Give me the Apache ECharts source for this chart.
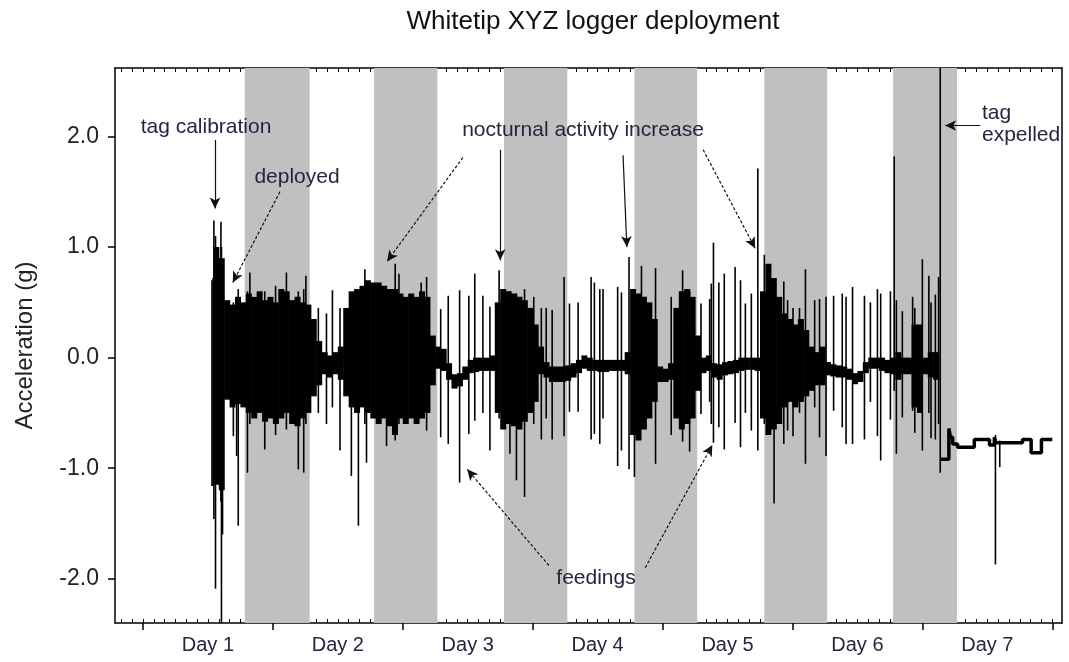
<!DOCTYPE html>
<html><head><meta charset="utf-8">
<script src="https://cdn.jsdelivr.net/npm/echarts@6/dist/echarts.min.js"></script>
<style>html,body{margin:0;padding:0;background:#fff}#c{width:1069px;height:662px}</style>
</head><body><div id="c"></div>
<script>
// ---- axis / tick data ----
const dayLabels = ['Day 1','Day 2','Day 3','Day 4','Day 5','Day 6','Day 7'];
const dayTickHours = [0,24,48,72,96,120,144,168];
const dayLabelHours = [12,36,60,84,108,132,156];
const yTickValues = [-2,-1,0,1,2];
const minorTickHours = [];
for (let h = -4; h <= 168; h += 2) minorTickHours.push(h);

// ---- night periods (hours) ----
const nightStart = [18.8, 42.7, 66.7, 90.8, 114.8, 138.6];
const nightEnd   = [30.8, 54.4, 78.4, 102.4, 126.4, 150.4];

// ---- dense signal envelope, hourly bins starting at bandStartHour ----
const bandStartHour = 13;
const bandHigh = [
 1.0,0.9,0.52,0.48,0.55,0.5,0.58,0.55,0.6,0.52,          // 13-22
 0.55,0.5,0.62,0.6,0.52,0.55,0.5,0.48,0.35,0.15,         // 23-32
 0.05,0.02,0.05,0.1,0.45,0.6,0.62,0.65,0.7,0.68,         // 33-42
 0.68,0.65,0.62,0.62,0.58,0.55,0.58,0.55,0.6,0.55,       // 43-52
 0.2,0.1,0.08,-0.05,-0.15,-0.14,-0.08,-0.02,0.0,0.0,     // 53-62
 0.0,0.02,0.5,0.62,0.6,0.58,0.55,0.52,0.45,0.3,          // 63-72
 0.1,-0.04,-0.08,-0.08,-0.08,-0.07,-0.05,-0.02,0.02,0.0, // 73-82
 -0.02,-0.02,-0.02,-0.02,-0.02,-0.02,0.05,0.62,0.58,0.55,// 83-92
 0.5,0.35,-0.08,-0.1,-0.05,0.45,0.6,0.62,0.55,0.2,       // 93-102
 0.0,0.02,-0.05,-0.06,-0.04,-0.03,-0.02,0.0,0.0,0.0,     // 103-112
 0.0,0.6,0.85,0.72,0.55,0.4,0.35,0.3,0.35,0.25,          // 113-122
 0.1,0.05,0.1,-0.04,-0.06,-0.07,-0.08,-0.1,-0.14,-0.12,  // 123-132
 -0.04,0.0,0.0,0.0,-0.02,0.0,0.05,0.0,0.0,0.3,           // 133-142
 0.3,0.0,0.05,0.05                                       // 143-146
];
const bandLow = [
 -1.15,-1.2,-0.38,-0.45,-0.42,-0.45,-0.5,-0.55,-0.5,-0.58,
 -0.55,-0.6,-0.55,-0.5,-0.6,-0.62,-0.55,-0.5,-0.35,-0.25,
 -0.15,-0.18,-0.15,-0.2,-0.35,-0.45,-0.5,-0.45,-0.5,-0.55,
 -0.6,-0.55,-0.62,-0.7,-0.55,-0.6,-0.55,-0.6,-0.55,-0.5,
 -0.25,-0.1,-0.12,-0.2,-0.28,-0.26,-0.2,-0.14,-0.13,-0.12,
 -0.12,-0.12,-0.5,-0.65,-0.6,-0.62,-0.65,-0.58,-0.5,-0.4,
 -0.15,-0.18,-0.22,-0.22,-0.22,-0.21,-0.18,-0.14,-0.1,-0.12,
 -0.12,-0.13,-0.13,-0.12,-0.12,-0.12,-0.15,-0.7,-0.75,-0.65,
 -0.55,-0.4,-0.22,-0.22,-0.2,-0.55,-0.65,-0.6,-0.55,-0.3,
 -0.14,-0.12,-0.18,-0.2,-0.16,-0.15,-0.14,-0.12,-0.11,-0.11,
 -0.12,-0.55,-0.7,-0.65,-0.6,-0.45,-0.4,-0.45,-0.4,-0.35,
 -0.3,-0.25,-0.25,-0.16,-0.17,-0.18,-0.18,-0.2,-0.24,-0.22,
 -0.14,-0.1,-0.1,-0.12,-0.14,-0.15,-0.2,-0.15,-0.15,-0.45,
 -0.5,-0.15,-0.18,-0.2
];

// ---- individual spikes: hour, top, bottom (g) ----
const spikeHours = [12.75,12.95,13.1,13.4,14.4,14.5,14.7,16.7,17.3,17.6,19.3,19.75,22.5,24.5,26.5,28.7,29.7,30.1,
 32.4,33.9,35.0,36.4,38.5,39.8,41.0,41.3,45.0,46.6,47.3,51.4,52.4,55.0,56.4,58.5,60.2,61.3,62.8,64.1,65.8,67.8,
 69.0,70.5,72.2,73.6,74.5,75.6,77.8,78.8,80.4,82.8,83.4,84.4,85.0,87.7,88.4,89.8,90.8,92.1,94.7,97.6,99.7,101.0,
 103.1,104.7,105.0,105.4,106.4,107.4,109.4,110.4,111.3,112.4,113.6,114.8,116.6,118.4,119.1,120.1,121.3,122.4,
 124.1,125.0,126.2,127.6,129.2,129.9,131.1,133.3,134.4,135.7,136.3,138.1,138.8,139.2,140.3,142.2,142.6,144.0,
 145.2,145.6,146.4,147.0,147.3,157.5,158.3];
const spikeHigh = [0.70,0.72,1.24,1.1,1.23,1.0,0.8,0.5,0.55,0.62,0.6,0.77,0.6,0.65,0.77,0.6,0.62,0.74,
 0.45,0.4,0.61,0.45,0.55,0.6,0.8,0.6,0.6,0.85,0.76,0.68,0.73,0.44,0.56,0.61,0.56,0.76,0.56,0.46,0.79,0.6,
 0.58,0.62,0.55,0.45,0.45,0.43,0.73,0.49,0.5,0.73,0.68,0.62,0.62,0.64,0.59,0.91,0.6,0.83,0.81,0.55,0.79,0.6,
 0.49,0.53,0.67,1.04,0.68,0.76,0.82,0.7,0.49,0.58,1.71,0.93,0.6,0.69,0.52,0.45,0.45,0.8,
 0.52,0.53,0.55,0.56,0.58,0.55,0.64,0.56,0.5,0.62,0.58,0.6,1.82,0.52,0.42,0.55,0.45,0.89,
 0.74,0.5,0.57,0.73,2.62,-0.7,-0.75];
const spikeLow = [-1.16,-1.16,-1.46,-2.09,-1.3,-2.40,-1.6,-0.71,-0.89,-1.52,-1.04,-0.6,-0.83,-0.7,-0.65,-1.01,-1.04,-0.6,
 -0.5,-0.6,-0.45,-0.84,-1.07,-1.52,-0.6,-0.95,-0.8,-0.75,-0.6,-0.55,-0.66,-0.72,-0.78,-1.13,-0.69,-0.57,-0.5,-0.84,-0.55,-0.87,
 -1.11,-1.26,-0.6,-0.74,-0.55,-0.74,-0.71,-0.49,-0.49,-0.74,-0.69,-0.78,-0.55,-0.98,-0.84,-1.01,-1.08,-0.6,-0.96,-0.7,-0.76,-0.85,
 -0.51,-0.4,-0.6,-0.77,-0.63,-0.83,-0.59,-0.81,-0.5,-0.66,-0.84,-0.6,-1.32,-0.78,-0.66,-0.71,-0.5,-0.96,
 -0.45,-0.72,-0.89,-0.48,-0.63,-0.78,-0.78,-0.74,-0.4,-0.71,-0.93,-0.56,-0.3,-0.87,-0.54,-0.48,-0.68,-0.84,
 -0.5,-0.73,-0.74,-0.6,-1.04,-1.87,-0.99];

// ---- after the tag was expelled (step line) ----
const restHours  = [147.3,148.9,149.2,149.6,150.5,153.6,156.4,157.3,157.6,162.5,164.1,166.0,168.0];
const restValues = [-0.92,-0.64,-0.72,-0.78,-0.81,-0.74,-0.79,-0.72,-0.77,-0.74,-0.86,-0.74,-0.74];

// ---- annotation arrows (data coordinates) ----
const arrowFrom  = [[13.3,1.97],[25.3,1.50],[59.1,1.81],[66.0,1.88],[88.7,1.83],[103.5,1.88],[75.0,-1.88],[92.8,-1.90],[154.7,2.10]];
const arrowTo    = [[13.3,1.35],[16.6,0.68],[45.1,0.87],[66.0,0.88],[89.4,1.00],[113.1,0.99],[59.9,-1.01],[105.2,-0.79],[148.2,2.10]];
const arrowDashed= [false,true,true,false,false,true,true,true,false];

const X_MIN = -5.17, X_MAX = 169.8, Y_MIN = -2.40, Y_MAX = 2.62;
const FONT = "'Liberation Sans', Arial, sans-serif";
const TXT = '#2b2240';

const chart = echarts.init(document.getElementById('c'), null, {renderer:'canvas'});

const bandData = bandHigh.map((v,i)=>[bandStartHour+i, v, bandLow[i]]);
const spikeData = spikeHours.map((h,i)=>[h, spikeHigh[i], spikeLow[i]]);
const restData = restHours.map((h,i)=>[h, restValues[i]]);

const gridBox = {left:115, right:7, top:68, bottom:39};
const axLine = {show:true, onZero:false, lineStyle:{color:'#000', width:1.5}};

function label(text, x, y, align, size) {
  return {type:'text', x:x, y:y, z:100, zlevel:0, silent:true,
    style:{text:text, textAlign:align, textVerticalAlign:'middle', font:size+'px '+FONT, fill:TXT}};
}

chart.setOption({
  animation:false,
  backgroundColor:'#fff',
  grid:[Object.assign({}, gridBox), Object.assign({}, gridBox)],
  xAxis:[
    {type:'value', gridIndex:0, position:'bottom', min:X_MIN, max:X_MAX, axisLine:axLine,
     axisTick:{show:true, inside:true, length:4, customValues:minorTickHours, lineStyle:{color:'#000', width:1}},
     axisLabel:{show:false}, splitLine:{show:false}},
    {type:'value', gridIndex:0, position:'top', min:X_MIN, max:X_MAX, axisLine:axLine,
     axisTick:{show:true, inside:true, length:4, customValues:minorTickHours, lineStyle:{color:'#000', width:1}},
     axisLabel:{show:false}, splitLine:{show:false}},
    {type:'value', gridIndex:1, position:'bottom', min:X_MIN, max:X_MAX, axisLine:{show:false, onZero:false},
     axisTick:{show:true, inside:false, length:7, customValues:dayTickHours, lineStyle:{color:'#000', width:1.5}},
     axisLabel:{show:true, customValues:dayLabelHours, margin:12, color:TXT, fontSize:20, fontFamily:FONT,
       formatter:(v)=> dayLabels[dayLabelHours.indexOf(Math.round(v))] || ''},
     splitLine:{show:false}}
  ],
  yAxis:[
    {type:'value', gridIndex:0, position:'left', min:Y_MIN, max:Y_MAX, axisLine:axLine,
     axisTick:{show:true, inside:false, length:7, customValues:yTickValues, lineStyle:{color:'#000', width:1.5}},
     axisLabel:{show:true, customValues:yTickValues, margin:16, color:'#222', fontSize:23, fontFamily:FONT,
       formatter:(v)=> v.toFixed(1)},
     splitLine:{show:false},
     name:'Acceleration (g)', nameLocation:'middle', nameGap:78, nameRotate:90,
     nameTextStyle:{color:'#222', fontSize:24, fontFamily:FONT}},
    {type:'value', gridIndex:0, position:'right', min:Y_MIN, max:Y_MAX, axisLine:axLine,
     axisTick:{show:false}, axisLabel:{show:false}, splitLine:{show:false}},
    {type:'value', gridIndex:1, min:Y_MIN, max:Y_MAX, show:false}
  ],
  graphic:{elements:[
    {type:'text', x:593, y:22, z:100, silent:true,
     style:{text:'Whitetip XYZ logger deployment', textAlign:'center', textVerticalAlign:'middle', font:'26px '+FONT, fill:'#111'}},
    label('tag calibration', 206, 127, 'center', 21),
    label('deployed', 297, 177, 'center', 21),
    label('nocturnal activity increase', 583, 130, 'center', 21),
    label('feedings', 596, 578, 'center', 21),
    label('tag', 982, 113, 'left', 21),
    label('expelled', 982, 135, 'left', 21)
  ]},
  series:[
    {name:'nights', type:'line', xAxisIndex:0, yAxisIndex:0, z:1, silent:true, symbol:'none',
     data:nightStart.map(h=>[h, 0]), lineStyle:{width:0, opacity:0},
     markArea:{silent:true, itemStyle:{color:'#c0c0c0'},
       data:nightStart.map((s,i)=>[{xAxis:s, yAxis:Y_MAX}, {xAxis:nightEnd[i], yAxis:Y_MIN}])}},
    {name:'band', type:'custom', xAxisIndex:0, yAxisIndex:0, z:3, clip:true, silent:true,
     encode:{x:0, y:[1,2]}, data:bandData,
     renderItem:(params, api)=>{
       const h = api.value(0), hi = api.value(1), lo = api.value(2);
       const p1 = api.coord([h, hi]), p2 = api.coord([h+1, lo]);
       return {type:'rect', shape:{x:p1[0], y:p1[1], width:p2[0]-p1[0]+0.6, height:Math.max(p2[1]-p1[1], 1)},
               style:{fill:'#000'}};
     }},
    {name:'spikes', type:'custom', xAxisIndex:0, yAxisIndex:0, z:3, clip:true, silent:true,
     encode:{x:0, y:[1,2]}, data:spikeData,
     renderItem:(params, api)=>{
       const h = api.value(0), hi = api.value(1), lo = api.value(2);
       const p1 = api.coord([h, hi]), p2 = api.coord([h, lo]);
       return {type:'line', shape:{x1:p1[0], y1:p1[1], x2:p2[0], y2:p2[1]},
               style:{stroke:'#000', lineWidth:1.6}};
     }},
    {name:'rest', type:'line', xAxisIndex:0, yAxisIndex:0, z:3, step:'end', symbol:'none', silent:true,
     data:restData, lineStyle:{color:'#000', width:3.5}},
    {name:'arrows', type:'line', xAxisIndex:0, yAxisIndex:0, z:4, symbol:'none', silent:true,
     data:[[X_MIN, Y_MIN]], lineStyle:{width:0, opacity:0},
     markLine:{silent:true, symbol:['none','arrow'], symbolSize:[8,11], label:{show:false},
       data:arrowFrom.map((f,i)=>[
         {coord:f, lineStyle:{color:'#111', width:1.2, type: arrowDashed[i] ? [3,2] : 'solid'}},
         {coord:arrowTo[i]}
       ])}}
  ]
});
</script>
</body></html>
